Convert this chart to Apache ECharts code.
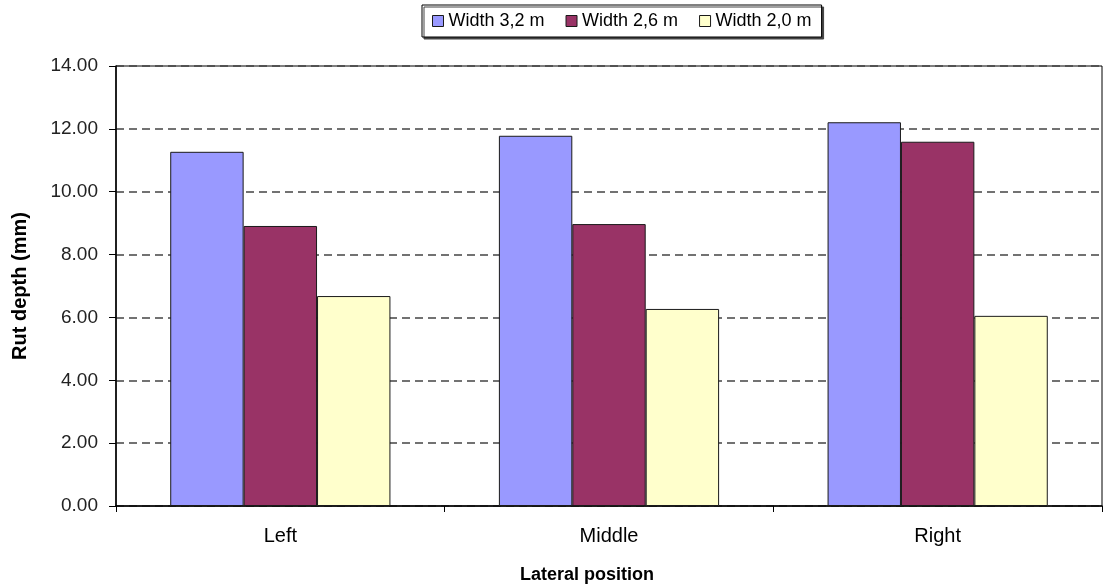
<!DOCTYPE html>
<html>
<head>
<meta charset="utf-8">
<title>Rut depth by lateral position</title>
<script src="https://cdn.jsdelivr.net/npm/echarts@6/dist/echarts.min.js"></script>
<style>
  html, body { margin: 0; padding: 0; background: #fff; }
  #chart { width: 1105px; height: 587px; }
</style>
</head>
<body>
<div id="chart"></div>
<script>
// Lateral positions on the x axis
const categories = ['Left', 'Middle', 'Right'];

// Rut depth (mm) per lane width
const width32 = [11.27, 11.78, 12.21];
const width26 = [8.91, 8.97, 11.59];
const width20 = [6.68, 6.27, 6.05];

const seriesNames = ['Width 3,2 m', 'Width 2,6 m', 'Width 2,0 m'];
const seriesColors = ['#9999FF', '#993366', '#FFFFCC'];

const font = 'Liberation Sans, Arial, sans-serif';

function barSeries(name, data, color) {
  return {
    name: name,
    type: 'bar',
    data: data,
    barGap: '0%',
    barCategoryGap: '33%',
    itemStyle: { color: color, borderColor: '#1a1a1a', borderWidth: 1 },
    emphasis: { disabled: true }
  };
}

const chart = echarts.init(document.getElementById('chart'), null, { renderer: 'canvas' });

chart.setOption({
  animation: false,
  backgroundColor: '#fff',
  textStyle: { fontFamily: font },
  legend: {
    data: seriesNames,
    left: 422,
    top: 5,
    padding: [7, 10, 7, 10],
    itemWidth: 11,
    itemHeight: 11,
    itemGap: 21,
    icon: 'rect',
    backgroundColor: '#fff',
    borderColor: '#000',
    borderWidth: 1,
    shadowColor: '#444',
    shadowOffsetX: 2,
    shadowOffsetY: 2,
    shadowBlur: 0,
    itemStyle: { borderColor: '#1a1a1a', borderWidth: 1 },
    textStyle: { fontFamily: font, fontSize: 18, color: '#000' }
  },
  grid: {
    left: 116,
    right: 3,
    top: 66,
    bottom: 81,
    show: true,
    borderColor: '#000',
    borderWidth: 1,
    containLabel: false,
    outerBoundsMode: 'none'
  },
  xAxis: {
    type: 'category',
    data: categories,
    name: 'Lateral position',
    nameLocation: 'middle',
    nameGap: 60,
    nameTextStyle: {
      fontFamily: font, fontSize: 18, fontWeight: 'bold', color: '#000',
      padding: [0, 44, 0, 0]
    },
    axisLine: { lineStyle: { color: '#000', width: 1.5 } },
    axisTick: { show: true, length: 6, lineStyle: { color: '#000' } },
    axisLabel: { fontFamily: font, fontSize: 20, color: '#000', margin: 20 },
    splitLine: { show: false }
  },
  yAxis: {
    type: 'value',
    min: 0,
    max: 14,
    interval: 2,
    name: 'Rut depth (mm)',
    nameLocation: 'middle',
    nameGap: 86,
    nameTextStyle: { fontFamily: font, fontSize: 20, fontWeight: 'bold', color: '#000' },
    axisLine: { show: true, lineStyle: { color: '#000', width: 1.5 } },
    axisTick: { show: true, length: 7, lineStyle: { color: '#000' } },
    axisLabel: {
      fontFamily: font,
      fontSize: 19,
      color: '#222',
      margin: 18,
      formatter: v => v.toFixed(2)
    },
    splitLine: { show: true, lineStyle: { color: '#444', width: 1.5, type: [8, 5] } }
  },
  series: [
    barSeries(seriesNames[0], width32, seriesColors[0]),
    barSeries(seriesNames[1], width26, seriesColors[1]),
    barSeries(seriesNames[2], width20, seriesColors[2])
  ]
});
</script>
</body>
</html>
